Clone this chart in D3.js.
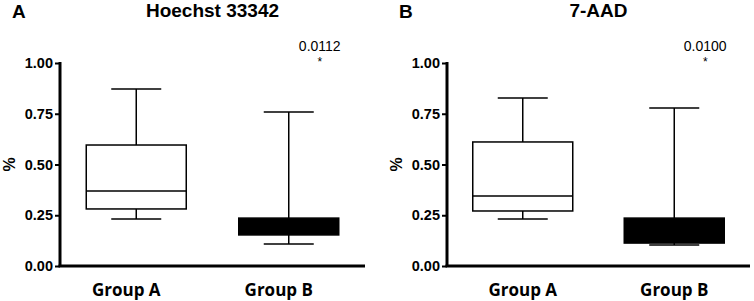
<!DOCTYPE html>
<html>
<head>
<meta charset="utf-8">
<script src="https://d3js.org/d3.v7.min.js"></script>
<style>
  body { margin: 0; background: #fff; }
  svg { display: block; }
</style>
</head>
<body>
<div id="chart"></div>
<script>
// Data
const groups = ["Group A", "Group B"];
const panelLetters = ["A", "B"];
const panelTitles = ["Hoechst 33342", "7-AAD"];
const pValues = ["0.0112", "0.0100"];
const yTicks = [0, 0.25, 0.5, 0.75, 1.0];

// box stats per panel: [min, q1, median, q3, max] for Group A then Group B
const hoechstStats = [
  [0.232, 0.281, 0.369, 0.596, 0.872],
  [0.108, 0.153, 0.205, 0.236, 0.759]
];
const aadStats = [
  [0.232, 0.271, 0.345, 0.611, 0.828],
  [0.103, 0.113, 0.200, 0.236, 0.778]
];
const boxFills = ["#fff", "#000"];

const width = 754, height = 301;

const svg = d3.select("#chart")
  .append("svg")
    .attr("width", width)
    .attr("height", height);

const y = d3.scaleLinear().domain([0, 1]).range([266, 63]);

// one panel per stain
const panels = [
  { x0: 60, x1: 365, stats: hoechstStats, labelDx: -10 },
  { x0: 447, x1: 750, stats: aadStats, labelDx: 0 }
];

panels.forEach((p, i) => {
  const g = svg.append("g");

  const x = d3.scalePoint().domain(groups).range([p.x0, p.x1]).padding(0.5);

  // panel letter and title
  g.append("text")
    .attr("x", p.x0 - 48)
    .attr("y", 18)
    .attr("font-family", "Liberation Sans, Arial, sans-serif")
    .attr("font-weight", "bold")
    .attr("font-size", 19)
    .text(panelLetters[i]);

  g.append("text")
    .attr("x", (p.x0 + p.x1) / 2)
    .attr("y", 17)
    .attr("text-anchor", "middle")
    .attr("font-family", "Liberation Sans, Arial, sans-serif")
    .attr("font-weight", "bold")
    .attr("font-size", 19)
    .text(panelTitles[i]);

  // y axis
  const yAxis = g.append("g")
    .attr("transform", `translate(${p.x0},0)`)
    .call(d3.axisLeft(y).tickValues(yTicks).tickFormat(d3.format(".2f")).tickSize(5).tickPadding(2));
  yAxis.select(".domain").attr("stroke-width", 3).attr("d", `M0,${y(1) - 1}V${y(0)}`);
  yAxis.selectAll(".tick line").attr("stroke-width", 2);
  yAxis.selectAll(".tick text")
    .attr("font-family", "Liberation Sans, Arial, sans-serif")
    .attr("font-weight", "bold")
    .attr("font-size", 14.5)
    .attr("fill", "#000");

  // x axis baseline
  g.append("line")
    .attr("x1", p.x0 - 1.5).attr("x2", p.x1)
    .attr("y1", y(0)).attr("y2", y(0))
    .attr("stroke", "#000").attr("stroke-width", 3);

  // y label
  g.append("text")
    .attr("transform", `translate(${p.x0 - 45},${y(0.5)}) rotate(-90)`)
    .attr("text-anchor", "middle")
    .attr("font-family", "Liberation Sans, Arial, sans-serif")
    .attr("font-weight", "bold")
    .attr("font-size", 16)
    .text("%");

  // category labels
  g.selectAll(".cat")
    .data(groups)
    .join("text")
      .attr("class", "cat")
      .attr("x", d => x(d) + p.labelDx)
      .attr("y", 296)
      .attr("text-anchor", "middle")
      .attr("font-family", "Open Sans, sans-serif")
      .attr("font-weight", "bold")
      .attr("font-size", 17)
      .text(d => d);

  // boxes
  const boxW = 100, capW = 50;
  groups.forEach((grp, j) => {
    const s = p.stats[j];
    const cx = x(grp);
    const bg = g.append("g").attr("stroke", "#000").attr("stroke-width", 1.5);

    // whiskers
    bg.append("line").attr("x1", cx).attr("x2", cx).attr("y1", y(s[4])).attr("y2", y(s[3]));
    bg.append("line").attr("x1", cx).attr("x2", cx).attr("y1", y(s[1])).attr("y2", y(s[0]));
    bg.append("line").attr("x1", cx - capW / 2).attr("x2", cx + capW / 2).attr("y1", y(s[4])).attr("y2", y(s[4]));
    bg.append("line").attr("x1", cx - capW / 2).attr("x2", cx + capW / 2).attr("y1", y(s[0])).attr("y2", y(s[0]));

    // box
    bg.append("rect")
      .attr("x", cx - boxW / 2)
      .attr("y", y(s[3]))
      .attr("width", boxW)
      .attr("height", y(s[1]) - y(s[3]))
      .attr("fill", boxFills[j]);

    // median
    bg.append("line")
      .attr("x1", cx - boxW / 2).attr("x2", cx + boxW / 2)
      .attr("y1", y(s[2])).attr("y2", y(s[2]));
  });

  // significance annotation above Group B
  const ax = x(groups[1]) + 31;
  g.append("text")
    .attr("x", ax)
    .attr("y", 51)
    .attr("text-anchor", "middle")
    .attr("font-family", "Liberation Sans, Arial, sans-serif")
    .attr("font-size", 14)
    .text(pValues[i]);
  g.append("text")
    .attr("x", ax)
    .attr("y", 66)
    .attr("text-anchor", "middle")
    .attr("font-family", "Liberation Sans, Arial, sans-serif")
    .attr("font-size", 12)
    .text("*");
});
</script>
</body>
</html>
